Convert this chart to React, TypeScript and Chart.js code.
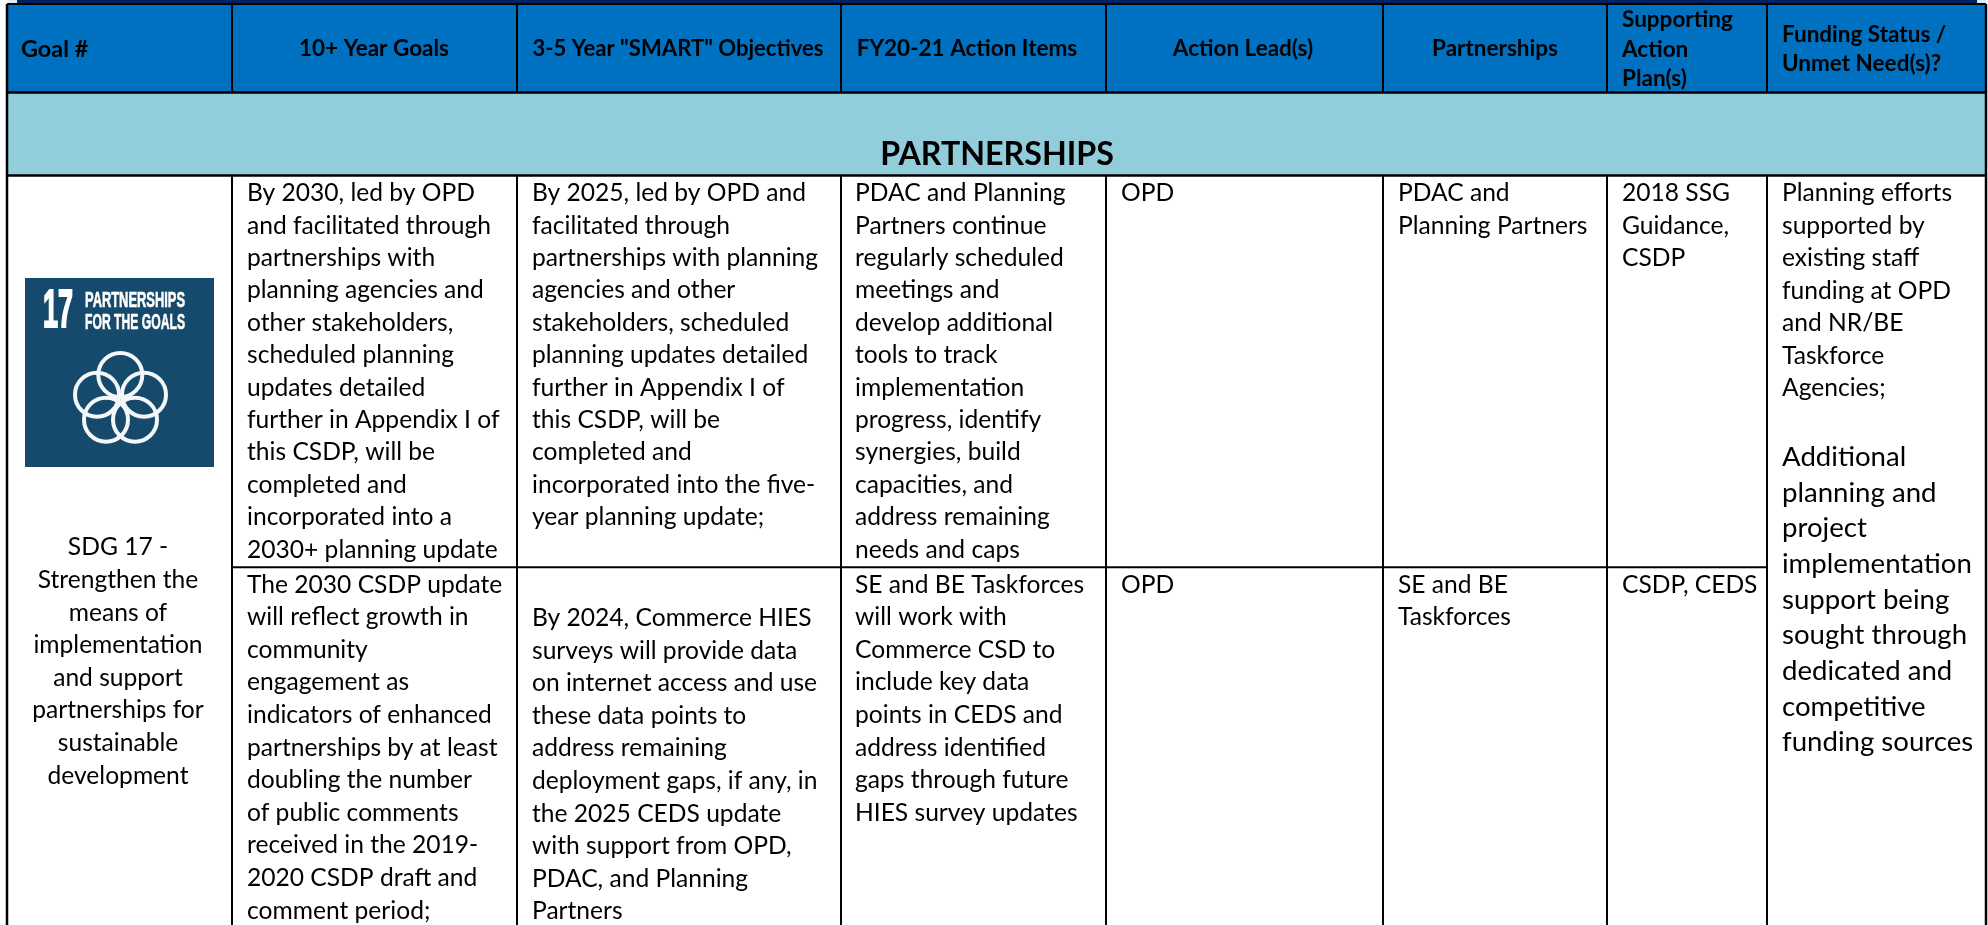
import React, { useEffect, useRef } from "react";
import { Chart, registerables } from "chart.js";

Chart.register(...registerables);

// ---------- content ----------
const headers = ["Goal #", "10+ Year Goals", '3-5 Year "SMART" Objectives', "FY20-21 Action Items", "Action Lead(s)", "Partnerships"];
const headerPlans = ["Supporting", "Action", "Plan(s)"];
const headerFunding = ["Funding Status /", "Unmet Need(s)?"];
const sectionTitle = "PARTNERSHIPS";
const sdgLines = ["SDG 17 -", "Strengthen the", "means of", "implementation", "and support", "partnerships for", "sustainable", "development"];
const goals1 = ["By 2030, led by OPD", "and facilitated through", "partnerships with", "planning agencies and", "other stakeholders,", "scheduled planning", "updates detailed", "further in Appendix I of", "this CSDP, will be", "completed and", "incorporated into a", "2030+ planning update"];
const goals2 = ["The 2030 CSDP update", "will reflect growth in", "community", "engagement as", "indicators of enhanced", "partnerships by at least", "doubling the number", "of public comments", "received in the 2019-", "2020 CSDP draft and", "comment period;"];
const smart1 = ["By 2025, led by OPD and", "facilitated through", "partnerships with planning", "agencies and other", "stakeholders, scheduled", "planning updates detailed", "further in Appendix I of", "this CSDP, will be", "completed and", "incorporated into the five-", "year planning update;"];
const smart2 = ["By 2024, Commerce HIES", "surveys will provide data", "on internet access and use", "these data points to", "address remaining", "deployment gaps, if any, in", "the 2025 CEDS update", "with support from OPD,", "PDAC, and Planning", "Partners"];
const action1 = ["PDAC and Planning", "Partners continue", "regularly scheduled", "meetings and", "develop additional", "tools to track", "implementation", "progress, identify", "synergies, build", "capacities, and", "address remaining", "needs and caps"];
const action2 = ["SE and BE Taskforces", "will work with", "Commerce CSD to", "include key data", "points in CEDS and", "address identified", "gaps through future", "HIES survey updates"];
const lead1 = ["OPD"];
const lead2 = ["OPD"];
const partners1 = ["PDAC and", "Planning Partners"];
const partners2 = ["SE and BE", "Taskforces"];
const plans1 = ["2018 SSG", "Guidance,", "CSDP"];
const plans2 = ["CSDP, CEDS"];
const fundingSmall = ["Planning efforts", "supported by", "existing staff", "funding at OPD", "and NR/BE", "Taskforce", "Agencies;"];
const fundingLarge = ["Additional", "planning and", "project", "implementation", "support being", "sought through", "dedicated and", "competitive", "funding sources"];
const logoTitle = ["PARTNERSHIPS", "FOR THE GOALS"];
const logoNumber = "17";

// ---------- layout (in the scale's units) ----------
const W = 1988;
const H = 925;
const colEdges = [7, 232, 517, 841, 1106, 1383, 1607, 1767, 1986];
const rowHeaderTop = 4;
const rowHeaderBottom = 92.5;
const rowSectionBottom = 175.5;
const rowSplit = 567.3;
const rowLine = 32.6;
const row1Line = 32.4;
const row1Y = 193.3;
const row2Y = 584.7;
const BODY = "24.6px Lato";
const BOLD = "bold 22.5px Lato";

type Cell = { lines: string[]; x: number; y: number; step?: number; align?: CanvasTextAlign; font?: string; color?: string; max?: number; stroke?: number };

const cells: Cell[] = [
  { lines: [headers[0]], x: 21, y: 49, font: "bold 23.4px Lato" },
  { lines: [headers[1]], x: 374, y: 49, font: BOLD, align: "center" },
  { lines: [headers[2]], x: 678, y: 49, font: BOLD, align: "center", max: 291 },
  { lines: [headers[3]], x: 967, y: 49, font: BOLD, align: "center" },
  { lines: [headers[4]], x: 1243, y: 49, font: BOLD, align: "center" },
  { lines: [headers[5]], x: 1495, y: 49, font: BOLD, align: "center" },
  { lines: headerPlans, x: 1622, y: 20, step: 29.5, font: BOLD },
  { lines: headerFunding, x: 1782, y: 34.5, step: 29, font: BOLD },
  { lines: [sectionTitle], x: 997, y: 155, font: "bold 32.2px Lato", align: "center" },
  { lines: sdgLines, x: 118, y: 547.5, align: "center" },
  { lines: goals1, x: 247, y: row1Y, step: row1Line },
  { lines: goals2, x: 247, y: row2Y },
  { lines: smart1, x: 532, y: row1Y, step: row1Line },
  { lines: smart2, x: 532, y: 618 },
  { lines: action1, x: 855, y: row1Y, step: row1Line },
  { lines: action2, x: 855, y: row2Y },
  { lines: lead1, x: 1121, y: row1Y },
  { lines: lead2, x: 1121, y: row2Y },
  { lines: partners1, x: 1398, y: row1Y, step: row1Line },
  { lines: partners2, x: 1398, y: row2Y },
  { lines: plans1, x: 1622, y: row1Y, step: row1Line },
  { lines: plans2, x: 1622, y: row2Y },
  { lines: fundingSmall, x: 1782, y: row1Y, step: 32.5 },
  { lines: fundingLarge, x: 1782, y: 456.9, step: 35.7, font: "27.6px Lato" },
  { lines: [logoNumber], x: 43, y: 312, font: "bold 53px 'Liberation Sans'", color: "#ffffff", max: 30, stroke: 2 },
  { lines: [logoTitle[0]], x: 85, y: 301, font: "bold 22px 'Liberation Sans'", color: "#ffffff", max: 100, stroke: 0.6 },
  { lines: [logoTitle[1]], x: 85, y: 323, font: "bold 22px 'Liberation Sans'", color: "#ffffff", max: 100, stroke: 0.6 },
];

const band = (x0: number, x1: number, y0: number, y1: number, color: string) => ({
  type: "line" as const,
  data: [{ x: x0, y: y0 }, { x: x1, y: y0 }],
  backgroundColor: color,
  borderWidth: 0,
  pointRadius: 0,
  fill: { value: y1 },
  order: 5,
});

const rule = (x0: number, y0: number, x1: number, y1: number, width = 2, color = "#000000") => ({
  type: "scatter" as const,
  showLine: true,
  data: [{ x: x0, y: y0 }, { x: x1, y: y1 }],
  borderColor: color,
  borderWidth: width,
  pointRadius: 0,
  fill: false,
  order: 3,
});

const tableText = {
  id: "tableText",
  afterDatasetsDraw(chart: any) {
    const { ctx, scales } = chart;
    ctx.save();
    ctx.textBaseline = "middle";
    for (const c of cells) {
      ctx.font = c.font ?? BODY;
      ctx.textAlign = c.align ?? "left";
      ctx.fillStyle = c.color ?? "#000000";
      ctx.strokeStyle = c.color ?? "#000000";
      c.lines.forEach((t, i) => {
        const px = scales.x.getPixelForValue(c.x);
        const py = scales.y.getPixelForValue(c.y + i * (c.step ?? rowLine));
        if (c.stroke) {
          ctx.lineWidth = c.stroke;
          ctx.strokeText(t, px, py, c.max);
        }
        if (c.max) ctx.fillText(t, px, py, c.max);
        else ctx.fillText(t, px, py);
      });
    }
    ctx.restore();
  },
};

export default function App() {
  const ref = useRef<HTMLCanvasElement>(null);
  useEffect(() => {
    const datasets: any[] = [
      band(17, 1977, 0, 3, "#002060"),
      band(8, 17, 0, 3, "#dceef5"),
      band(1977, 1986, 0, 3, "#dceef5"),
      band(7, 1986, rowHeaderTop, rowHeaderBottom, "#0070c0"),
      band(7, 1986, rowHeaderBottom, rowSectionBottom, "#92cddc"),
      band(25, 214, 278, 467, "#164a6d"),
      rule(7, rowHeaderTop, 1986, rowHeaderTop, 2),
      rule(7, rowHeaderBottom, 1986, rowHeaderBottom, 2.5),
      rule(7, rowSectionBottom, 1986, rowSectionBottom, 2.5),
      rule(232, rowSplit, 1767, rowSplit, 2),
      rule(colEdges[0], rowHeaderTop, colEdges[0], H, 2.5),
      rule(colEdges[8], rowHeaderTop, colEdges[8], H, 2.5),
      ...colEdges.slice(1, 8).flatMap((x) => [
        rule(x, rowHeaderTop, x, rowHeaderBottom, 2),
        rule(x, rowSectionBottom, x, H, 2),
      ]),
      {
        type: "scatter",
        data: [
          { x: 120.3, y: 375 },
          { x: 97, y: 394.7 },
          { x: 144, y: 394.7 },
          { x: 106, y: 419.7 },
          { x: 135, y: 419.7 },
        ],
        pointRadius: 22,
        pointBackgroundColor: "rgba(0,0,0,0)",
        pointBorderColor: "#f4f7f9",
        pointBorderWidth: 4,
        order: 1,
      },
    ];
    const chart = new Chart(ref.current!, {
      type: "scatter",
      data: { datasets },
      options: {
        animation: false,
        responsive: false,
        layout: { padding: 0, autoPadding: false },
        plugins: { legend: { display: false }, tooltip: { enabled: false }, title: { display: false }, filler: { propagate: false } },
        scales: {
          x: { type: "linear", min: 0, max: W, display: false },
          y: { type: "linear", min: 0, max: H, reverse: true, display: false },
        },
      },
      plugins: [tableText],
    } as any);
    return () => chart.destroy();
  }, []);
  return (
    <div style={{ position: "fixed", left: 0, top: 0, width: W, height: H, background: "#fff" }}>
      <canvas ref={ref} width={W} height={H} style={{ display: "block", width: W, height: H }} />
    </div>
  );
}
